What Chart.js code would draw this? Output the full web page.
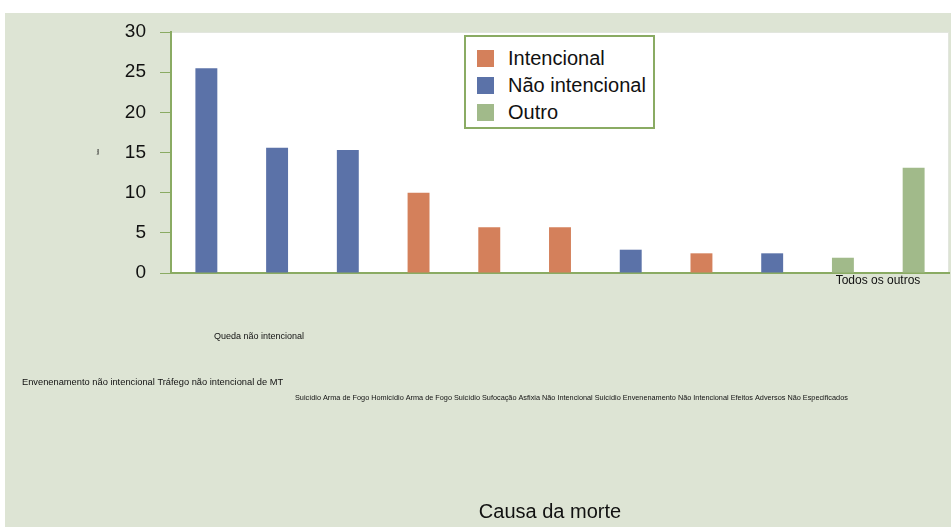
<!DOCTYPE html>
<html>
<head>
<meta charset="utf-8">
<script src="https://cdn.jsdelivr.net/npm/chart.js@4.4.1/dist/chart.umd.min.js"></script>
<style>
  html, body { margin: 0; padding: 0; background: #ffffff; }
  #wrap { position: relative; width: 951px; height: 527px; overflow: hidden; }
  #bg { position: absolute; left: 5px; top: 13px; right: 0; bottom: 0; background: #dde4d4; }
  #chart { position: absolute; left: 0; top: 0; }
  #legend {
    position: absolute; left: 464px; top: 35px; width: 187px; height: 90px;
    background: #ffffff; border: 2px solid #8aab63;
    font-family: "Liberation Sans", Arial, sans-serif; font-size: 20px; color: #111;
  }
  #legend .item { position: absolute; left: 11px; height: 20px; line-height: 20px; white-space: nowrap; }
  #legend .sw { display: inline-block; width: 17px; height: 17px; vertical-align: -2px; margin-right: 14px; }
</style>
</head>
<body>
<div id="wrap">
  <div id="bg"></div>
  <canvas id="chart" width="951" height="527"></canvas>
  <div id="legend"></div>
</div>
<script>
// causas de morte, taxa por categoria
const causas = [
  'Queda não intencional',
  'Envenenamento não intencional',
  'Tráfego não intencional de MT',
  'Suicídio Arma de Fogo',
  'Homicídio Arma de Fogo',
  'Suicídio Sufocação',
  'Asfixia Não Intencional',
  'Suicídio Envenenamento',
  'Não Intencional Efeitos Adversos',
  'Não Especificados',
  'Todos os outros'
];
const taxas = [25.5, 15.6, 15.3, 10.0, 5.7, 5.7, 2.9, 2.45, 2.45, 1.9, 13.1];
const tipos = ['Não intencional', 'Não intencional', 'Não intencional', 'Intencional', 'Intencional',
  'Intencional', 'Não intencional', 'Intencional', 'Não intencional', 'Outro', 'Outro'];

const grupos = ['Intencional', 'Não intencional', 'Outro'];
const cores = ['#d4805b', '#5b72a8', '#a1ba8a'];
const yTicks = [0, 5, 10, 15, 20, 25, 30];

const FONT = '"Liberation Sans", Arial, sans-serif';
const VERDE = '#8aab63';

const datasets = grupos.map((g, i) => ({
  label: g,
  data: taxas.map((v, j) => tipos[j] === g ? v : null),
  backgroundColor: cores[i],
  barPercentage: 0.31,
  categoryPercentage: 1.0,
  grouped: false
}));

// fundo branco da área de plotagem + rótulos do eixo x
const areaPlot = {
  id: 'areaPlot',
  beforeDraw(chart) {
    const { ctx, chartArea: a } = chart;
    ctx.save();
    ctx.fillStyle = '#ffffff';
    ctx.fillRect(a.left, a.top, a.right - a.left, a.bottom - a.top);
    ctx.strokeStyle = '#e2e6de';
    ctx.lineWidth = 1;
    ctx.strokeRect(a.left + 0.5, a.top + 0.5, a.right - a.left - 1, a.bottom - a.top);
    ctx.restore();
  },
  afterDraw(chart) {
    const { ctx } = chart;
    ctx.save();
    ctx.fillStyle = '#111';
    ctx.textBaseline = 'middle';
    ctx.textAlign = 'center';
    ctx.font = '12px ' + FONT;
    ctx.fillText(causas[10], 878, 281);
    ctx.textAlign = 'left';
    ctx.font = '9px ' + FONT;
    ctx.fillText(causas[0], 214, 337);
    ctx.font = '9.3px ' + FONT;
    ctx.fillText(causas[1] + ' ' + causas[2], 22, 382);
    ctx.font = '7.3px ' + FONT;
    ctx.fillText(causas.slice(3, 10).join(' '), 295, 398);
    ctx.textAlign = 'center';
    ctx.font = '20px ' + FONT;
    ctx.fillText('Causa da morte', 550, 512);
    ctx.translate(98, 152);
    ctx.rotate(-Math.PI / 2);
    ctx.font = '3px ' + FONT;
    ctx.fillText('taxa', 0, 0);
    ctx.restore();
  }
};

new Chart(document.getElementById('chart'), {
  type: 'bar',
  data: { labels: causas, datasets: datasets },
  options: {
    responsive: false,
    animation: false,
    layout: { padding: { top: 32, bottom: 254, right: 2, left: 0 } },
    plugins: { legend: { display: false }, tooltip: { enabled: false } },
    scales: {
      x: {
        grid: { display: false, drawTicks: false },
        border: { color: VERDE, width: 2 },
        ticks: { display: false },
        afterFit(s) { s.height = 0; }
      },
      y: {
        min: 0, max: 30,
        afterBuildTicks(s) { s.ticks = yTicks.map(v => ({ value: v })); },
        afterFit(s) { s.width = 171; },
        grid: { drawOnChartArea: false, color: VERDE, tickLength: 11, lineWidth: 1 },
        border: { color: VERDE, width: 2 },
        ticks: { color: '#111', padding: 14, font: { family: FONT, size: 19 } }
      }
    }
  },
  plugins: [areaPlot]
});

// legenda
const leg = document.getElementById('legend');
grupos.forEach((g, i) => {
  const it = document.createElement('div');
  it.className = 'item';
  it.style.top = (11 + i * 27) + 'px';
  it.innerHTML = '<span class="sw" style="background:' + cores[i] + '"></span>' + g;
  leg.appendChild(it);
});
</script>
</body>
</html>
